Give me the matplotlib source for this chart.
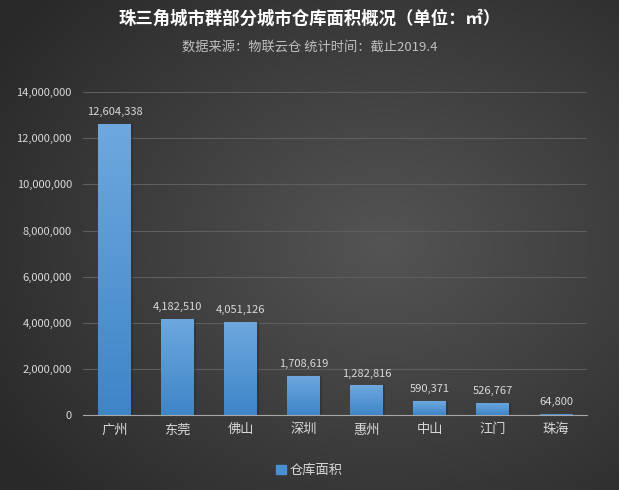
import numpy as np
import matplotlib
matplotlib.use('Agg')
import matplotlib.pyplot as plt
from matplotlib.ticker import FuncFormatter
from matplotlib.patches import Rectangle

plt.rcParams['font.family'] = ['Noto Sans CJK SC', 'DejaVu Sans']

cities = ['广州', '东莞', '佛山', '深圳', '惠州', '中山', '江门', '珠海']
area = [12604338, 4182510, 4051126, 1708619, 1282816, 590371, 526767, 64800]
series_name = '仓库面积'

fig = plt.figure(figsize=(6.19, 4.90), dpi=100)

# dark radial background
bg = fig.add_axes([0, 0, 1, 1], zorder=-10)
yy, xx = np.mgrid[0:1:300j, 0:1:380j]
r = np.sqrt(((xx - 0.62) / 0.75) ** 2 + ((yy - 0.5) / 0.75) ** 2)
shade = np.clip(0.33 - 0.17 * r, 0.16, 0.33)
bg.imshow(np.dstack([shade] * 3), extent=[0, 1, 0, 1], aspect='auto', origin='lower')
bg.axis('off')

ax = fig.add_axes([0.134, 0.153, 0.815, 0.659])
ax.patch.set_alpha(0)

x = np.arange(len(cities))
bars = ax.bar(x, area, width=0.52, color='#4a8fd4', zorder=3)

# vertical gradient inside each bar
grad = np.linspace(0, 1, 256).reshape(-1, 1)
cmap = matplotlib.colors.LinearSegmentedColormap.from_list('b', ['#3e85c8', '#6ea8de'])
for b in bars:
    x0, w, h = b.get_x(), b.get_width(), b.get_height()
    im = ax.imshow(grad, extent=[x0, x0 + w, 0, h], origin='lower', cmap=cmap,
                   aspect='auto', zorder=4)
    im.set_clip_path(b)
    ax.add_patch(Rectangle((x0 + w, 0), 0.02, h, color='#2a2a2a', alpha=0.3, zorder=2))

for xi, v in zip(x, area):
    ax.text(xi, v + 300000, f'{v:,}', ha='center', va='bottom', color='#d9d9d9',
            fontsize=8, zorder=5)

ax.set_xlim(-0.5, len(cities) - 0.5)
ax.set_ylim(0, 14000000)
ax.set_yticks(np.arange(0, 14000001, 2000000))
ax.yaxis.set_major_formatter(FuncFormatter(lambda v, p: f'{int(v):,}'))
ax.set_xticks(x)
ax.set_xticklabels(cities)
ax.tick_params(axis='y', colors='#d9d9d9', labelsize=8, length=0, pad=8)
ax.tick_params(axis='x', colors='#d9d9d9', labelsize=9.5, length=0, pad=6)
ax.grid(axis='y', color='#5e5e5e', linewidth=0.8, zorder=0)
for s in ['top', 'right', 'left']:
    ax.spines[s].set_visible(False)
ax.spines['bottom'].set_color('#a6a6a6')
ax.spines['bottom'].set_zorder(6)

fig.text(0.5, 0.962, '珠三角城市群部分城市仓库面积概况（单位：㎡）', ha='center', va='center',
         color='white', fontsize=12.5, fontweight='bold')
fig.text(0.5, 0.903, '数据来源：物联云仓 统计时间：截止2019.4', ha='center', va='center',
         color='#bfbfbf', fontsize=9.5)

leg = fig.legend([Rectangle((0, 0), 1, 1, color='#4a8fd4')], [series_name],
                 loc='center', bbox_to_anchor=(0.5, 0.04), frameon=False,
                 fontsize=9.5, handlelength=0.7, handleheight=0.7, handletextpad=0.3)
for t in leg.get_texts():
    t.set_color('#d9d9d9')

fig.savefig('out.png', dpi=100)
